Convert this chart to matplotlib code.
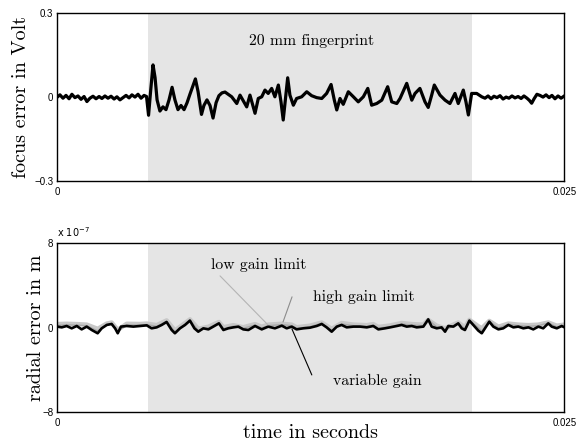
import numpy as np
import matplotlib
matplotlib.use('Agg')
import matplotlib.pyplot as plt

# focus error trace (time in ms, value in Volt)
focus_t_ms = [0.00, 0.13, 0.28, 0.43, 0.58, 0.72, 0.87, 1.02, 1.17, 1.32, 1.46, 1.61, 1.76, 1.91,
              2.06, 2.20, 2.35, 2.50, 2.65, 2.80, 2.94, 3.09, 3.24, 3.39, 3.54, 3.68, 3.83, 3.98,
              4.13, 4.28, 4.40, 4.50, 4.60, 4.72, 4.82, 4.92, 5.06, 5.21, 5.36, 5.51, 5.66, 5.80,
              5.95, 6.10, 6.25, 6.40, 6.54, 6.69, 6.81, 6.94, 7.11, 7.23, 7.38, 7.53, 7.68, 7.83,
              7.97, 8.12, 8.27, 8.60, 8.85, 9.01, 9.34, 9.50, 9.75, 9.91, 10.08, 10.24, 10.40,
              10.57, 10.73, 10.90, 11.03, 11.14, 11.26, 11.36, 11.47, 11.64, 11.80, 12.05, 12.30,
              12.54, 12.79, 13.04, 13.28, 13.50, 13.66, 13.78, 13.94, 14.10, 14.35, 14.60, 14.84,
              15.09, 15.31, 15.50, 15.75, 16.00, 16.29, 16.49, 16.74, 16.90, 17.23, 17.48, 17.64,
              17.88, 18.13, 18.29, 18.46, 18.59, 18.87, 19.12, 19.36, 19.61, 19.77, 20.02, 20.15,
              20.27, 20.43, 20.68, 20.93, 21.09, 21.24, 21.39, 21.53, 21.68, 21.83, 21.98, 22.13,
              22.27, 22.42, 22.57, 22.72, 22.87, 23.01, 23.16, 23.28, 23.39, 23.51, 23.65, 23.80,
              23.95, 24.10, 24.25, 24.39, 24.54, 24.69, 24.84, 25.00]
focus_v = [0.000, 0.008, -0.004, 0.006, -0.006, 0.010, -0.002, 0.004, -0.008, 0.002, -0.016,
           -0.004, 0.003, -0.006, 0.002, -0.005, 0.004, -0.004, 0.003, -0.007, 0.001, -0.010,
           -0.002, 0.006, -0.003, 0.008, 0.000, 0.010, -0.004, 0.006, 0.002, -0.065, 0.020,
           0.115, 0.070, -0.010, -0.050, -0.035, -0.045, -0.010, 0.035, -0.010, -0.045, -0.030,
           -0.045, -0.020, 0.010, 0.040, 0.065, 0.020, -0.062, -0.030, -0.010, -0.030, -0.075,
           -0.020, 0.005, 0.015, 0.018, 0.001, -0.023, 0.007, -0.035, 0.007, -0.058, -0.005,
           0.001, 0.025, 0.013, 0.031, 0.001, 0.043, -0.017, -0.082, 0.000, 0.069, 0.007, -0.029,
           -0.005, 0.001, 0.019, 0.005, -0.002, -0.005, 0.013, 0.045, -0.011, -0.046, -0.005,
           -0.026, 0.019, 0.001, -0.017, 0.001, 0.031, -0.029, -0.023, -0.011, 0.037, -0.017,
           -0.023, -0.005, 0.049, -0.011, 0.013, 0.031, -0.017, -0.037, 0.007, 0.043, 0.007,
           -0.011, -0.023, 0.013, -0.023, 0.025, -0.017, -0.064, 0.013, 0.013, 0.001, -0.004,
           0.004, -0.006, 0.003, -0.002, 0.005, -0.007, 0.000, -0.004, 0.004, -0.003, 0.002,
           -0.005, 0.004, -0.004, -0.012, -0.022, -0.006, 0.010, 0.006, 0.000, 0.008, -0.002,
           0.006, -0.006, 0.004, -0.004, 0.004]

# radial error, variable gain (time in ms, value in 1e-7 m)
radial_t_ms = [0.00, 0.22, 0.46, 0.71, 0.96, 1.20, 1.45, 1.70, 1.99, 2.19, 2.44, 2.68, 2.85, 2.98,
               3.14, 3.42, 3.75, 4.08, 4.41, 4.65, 4.90, 5.15, 5.39, 5.64, 5.80, 6.05, 6.30, 6.54,
               6.76, 6.95, 7.20, 7.45, 7.69, 7.97, 8.19, 8.43, 8.68, 8.93, 9.17, 9.42, 9.75, 10.08,
               10.40, 10.73, 11.07, 11.31, 11.56, 11.80, 12.13, 12.46, 12.79, 13.04, 13.28, 13.53,
               13.78, 14.02, 14.27, 14.60, 14.93, 15.26, 15.58, 15.83, 16.16, 16.41, 16.74, 16.98,
               17.23, 17.48, 17.72, 18.05, 18.29, 18.46, 18.71, 18.95, 19.12, 19.28, 19.53, 19.77,
               19.94, 20.10, 20.32, 20.51, 20.76, 20.93, 21.09, 21.30, 21.50, 21.75, 21.99, 22.24,
               22.49, 22.73, 22.98, 23.23, 23.47, 23.72, 23.96, 24.21, 24.38, 24.63, 24.87, 25.00]
radial_var = [0.11, 0.04, 0.17, -0.05, 0.17, -0.15, 0.11, -0.21, -0.52, -0.05, 0.27, 0.36, -0.05,
              -0.52, 0.11, 0.17, 0.11, 0.17, 0.23, -0.05, 0.04, 0.27, 0.55, -0.21, -0.52, -0.05,
              0.27, 0.68, -0.05, -0.37, -0.05, -0.15, 0.11, 0.42, -0.21, -0.05, 0.04, 0.11, -0.15,
              -0.21, 0.17, -0.15, 0.11, -0.05, 0.20, -0.05, 0.11, -0.15, -0.05, 0.01, 0.17, 0.36,
              0.04, -0.37, 0.11, 0.27, 0.04, 0.11, 0.11, 0.04, 0.17, -0.15, -0.05, 0.04, 0.17, 0.27,
              0.11, 0.17, 0.04, 0.11, 0.80, 0.11, -0.05, 0.04, -0.37, 0.17, 0.11, 0.42, -0.05,
              -0.21, 0.68, 0.27, -0.27, -0.52, -0.05, 0.58, 0.11, -0.15, -0.05, 0.27, 0.04, 0.11,
              -0.05, 0.04, -0.15, 0.11, -0.05, 0.42, 0.11, -0.05, 0.17, 0.05]

# gain limits (time in ms, value in 1e-7 m)
limit_t_ms = [0.00, 0.46, 0.96, 1.45, 1.99, 2.44, 2.68, 2.98, 3.42, 4.08, 4.41, 4.90, 5.39, 5.80,
              6.30, 6.54, 6.95, 7.45, 7.97, 8.19, 8.68, 9.17, 9.75, 10.08, 10.40, 11.07, 11.56,
              11.80, 12.46, 13.04, 13.53, 14.02, 14.60, 15.26, 15.58, 15.83, 16.41, 16.98, 17.48,
              18.05, 18.29, 18.71, 19.12, 19.77, 20.10, 20.32, 20.76, 20.93, 21.30, 21.75, 22.24,
              22.73, 23.23, 23.72, 24.21, 24.63, 25.00]
radial_high = [0.35, 0.38, 0.35, 0.30, -0.10, 0.40, 0.50, -0.20, 0.38, 0.36, 0.40, 0.25, 0.70,
               -0.25, 0.45, 0.80, -0.10, 0.10, 0.55, 0.05, 0.25, 0.05, 0.35, 0.10, 0.30, 0.38,
               0.30, 0.05, 0.20, 0.50, -0.10, 0.45, 0.30, 0.25, 0.35, 0.08, 0.22, 0.45, 0.35,
               0.30, 0.75, 0.20, -0.05, 0.50, 0.05, 0.75, 0.15, -0.05, 0.65, 0.10, 0.40, 0.30,
               0.25, 0.30, 0.50, 0.20, 0.30]
radial_low = [0.22, 0.28, 0.25, 0.20, -0.30, 0.32, 0.42, -0.35, 0.28, 0.26, 0.30, 0.14, 0.62,
              -0.38, 0.36, 0.74, -0.25, -0.02, 0.48, -0.08, 0.15, -0.05, 0.26, -0.02, 0.20, 0.30,
              0.20, -0.05, 0.10, 0.44, -0.25, 0.36, 0.20, 0.15, 0.26, -0.04, 0.12, 0.36, 0.26,
              0.20, 0.78, 0.08, -0.22, 0.46, -0.10, 0.72, 0.00, -0.30, 0.62, -0.02, 0.34, 0.20,
              0.14, 0.20, 0.46, 0.08, 0.15]

fingerprint_start = 4.45e-3
fingerprint_end = 20.45e-3

serif = 'cmr10'
shade = '#e5e5e5'

fig = plt.figure(figsize=(5.77, 4.45), dpi=100)
ax1 = fig.add_axes([0.0993, 0.5933, 0.8787, 0.3771])
ax2 = fig.add_axes([0.0993, 0.0735, 0.8787, 0.3798])

# top: focus error
t_focus = np.array(focus_t_ms) * 1e-3
ax1.axvspan(fingerprint_start, fingerprint_end, color=shade, lw=0, zorder=0)
ax1.plot(t_focus, focus_v, color='black', lw=2.3, solid_joinstyle='round')
ax1.set_xlim(0, 0.025)
ax1.set_ylim(-0.3, 0.3)
ax1.set_yticks([-0.3, 0, 0.3])
ax1.set_yticklabels(['\u22120.3', '0', '0.3'])
ax1.set_xticks([0, 0.025])
ax1.set_xticklabels(['0', '0.025'])
ax1.text(0.502, 0.835, '20 mm fingerprint', transform=ax1.transAxes,
         ha='center', va='center', fontsize=11.3, family=serif)

# bottom: radial error
t_rad = np.array(radial_t_ms) * 1e-3
t_lim = np.array(limit_t_ms) * 1e-3
ax2.axvspan(fingerprint_start, fingerprint_end, color=shade, lw=0, zorder=0)
ax2.plot(t_lim, radial_high, color='#c8c8c8', lw=3.2)
ax2.plot(t_lim, radial_low, color='#a8a8a8', lw=1.0)
ax2.plot(t_rad, radial_var, color='black', lw=1.9, solid_joinstyle='round')
ax2.set_xlim(0, 0.025)
ax2.set_ylim(-8, 8)
ax2.set_yticks([-8, 0, 8])
ax2.set_yticklabels(['\u22128', '0', '8'])
ax2.set_xticks([0, 0.025])
ax2.set_xticklabels(['0', '0.025'])
ax2.text(0, 1.025, r'x 10$^{-7}$', transform=ax2.transAxes, ha='left', va='bottom',
         fontsize=7)

# annotations
ax2.annotate('', xy=(10.39e-3, 0.27), xytext=(0.321, 0.807), textcoords='axes fraction',
             arrowprops=dict(arrowstyle='-', color='#b4b4b4', lw=0.8, shrinkA=0, shrinkB=0))
ax2.annotate('', xy=(11.13e-3, 0.55), xytext=(0.463, 0.683), textcoords='axes fraction',
             arrowprops=dict(arrowstyle='-', color='#8c8c8c', lw=0.8, shrinkA=0, shrinkB=0))
ax2.annotate('', xy=(11.57e-3, -0.11), xytext=(0.502, 0.221), textcoords='axes fraction',
             arrowprops=dict(arrowstyle='-', color='black', lw=0.8, shrinkA=0, shrinkB=0))
ax2.text(0.398, 0.871, 'low gain limit', transform=ax2.transAxes, ha='center',
         va='center', fontsize=11.3, family=serif)
ax2.text(0.605, 0.683, 'high gain limit', transform=ax2.transAxes, ha='center',
         va='center', fontsize=11.3, family=serif)
ax2.text(0.631, 0.186, 'variable gain', transform=ax2.transAxes, ha='center',
         va='center', fontsize=11.3, family=serif)

for ax in (ax1, ax2):
    ax.tick_params(length=0, labelsize=7, pad=3)
    ax.tick_params(axis='x', pad=4)
    for sp in ax.spines.values():
        sp.set_linewidth(1.0)
    for lab in ax.get_xticklabels() + ax.get_yticklabels():
        lab.set_family('Liberation Sans')

fig.text(21 / 577, 1 - 96.7 / 445, 'focus error in Volt', rotation=90, ha='center',
         va='center', fontsize=14.5, family=serif)
fig.text(36.5 / 577, 1 - 327.5 / 445, 'radial error in m', rotation=90, ha='center',
         va='center', fontsize=14.5, family=serif)
fig.text(310.8 / 577, 1 - 433 / 445, 'time in seconds', ha='center', va='center',
         fontsize=14.5, family=serif)

fig.savefig('out.png', dpi=100)
